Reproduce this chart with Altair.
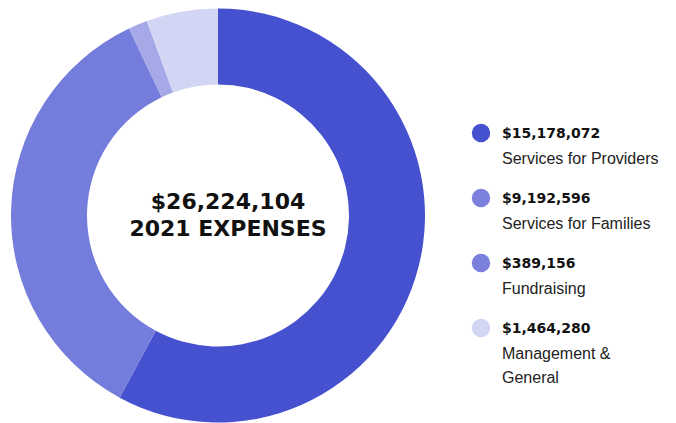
import altair as alt
import pandas as pd

categories = ["Services for Providers", "Services for Families", "Fundraising", "Management & General"]
amounts = [15178072, 9192596, 389156, 1464280]
amount_labels = ["$15,178,072", "$9,192,596", "$389,156", "$1,464,280"]
name_labels = ["Services for Providers", "Services for Families", "Fundraising", "Management &\nGeneral"]
slice_colors = ["#4651cf", "#757ddc", "#a6a9e8", "#d3d5f4"]
legend_colors = ["#4651cf", "#7b80dd", "#7b80dd", "#d3d5f4"]
total_label = "$26,224,104\n2021 EXPENSES"

df = pd.DataFrame({
    "category": categories,
    "amount": amounts,
    "order": list(range(len(categories))),
    "amount_label": amount_labels,
    "name_label": name_labels,
    "slice_color": slice_colors,
    "legend_color": legend_colors,
})

donut = alt.Chart(df).mark_arc(outerRadius=207, innerRadius=131).encode(
    theta=alt.Theta("amount:Q", stack=True),
    order=alt.Order("order:Q"),
    color=alt.Color("slice_color:N", scale=None),
)

center = alt.Chart(pd.DataFrame({"t": [total_label]})).mark_text(
    font="DejaVu Sans", fontWeight="bold", fontSize=22, color="#111111",
    lineBreak="\n", lineHeight=27, align="center", baseline="middle",
).encode(text="t:N", x=alt.value(220), y=alt.value(194))

left = alt.layer(donut, center).properties(width=420, height=415)

yscale = alt.Scale(domain=[0, 3], range=[125, 320])

dots = alt.Chart(df).mark_point(filled=True, shape="circle", size=340, opacity=1).encode(
    x=alt.value(53),
    y=alt.Y("order:Q", scale=yscale, axis=None),
    color=alt.Color("legend_color:N", scale=None),
)

amt = alt.Chart(df).mark_text(
    font="DejaVu Sans", fontWeight="bold", fontSize=14, color="#111111",
    align="left", baseline="middle", dy=1,
).encode(
    x=alt.value(74),
    y=alt.Y("order:Q", scale=yscale, axis=None),
    text="amount_label:N",
)

names = alt.Chart(df).mark_text(
    font="Liberation Sans", fontSize=16, color="#222222",
    align="left", baseline="middle", dy=26, lineBreak="\n", lineHeight=24,
).encode(
    x=alt.value(74),
    y=alt.Y("order:Q", scale=yscale, axis=None),
    text="name_label:N",
)

right = alt.layer(dots, amt, names).properties(width=230, height=415)

chart = alt.hconcat(left, right, spacing=0).properties(padding=0).configure_view(stroke=None)

chart.save("out.html", embed_options={"renderer": "svg", "actions": False})
